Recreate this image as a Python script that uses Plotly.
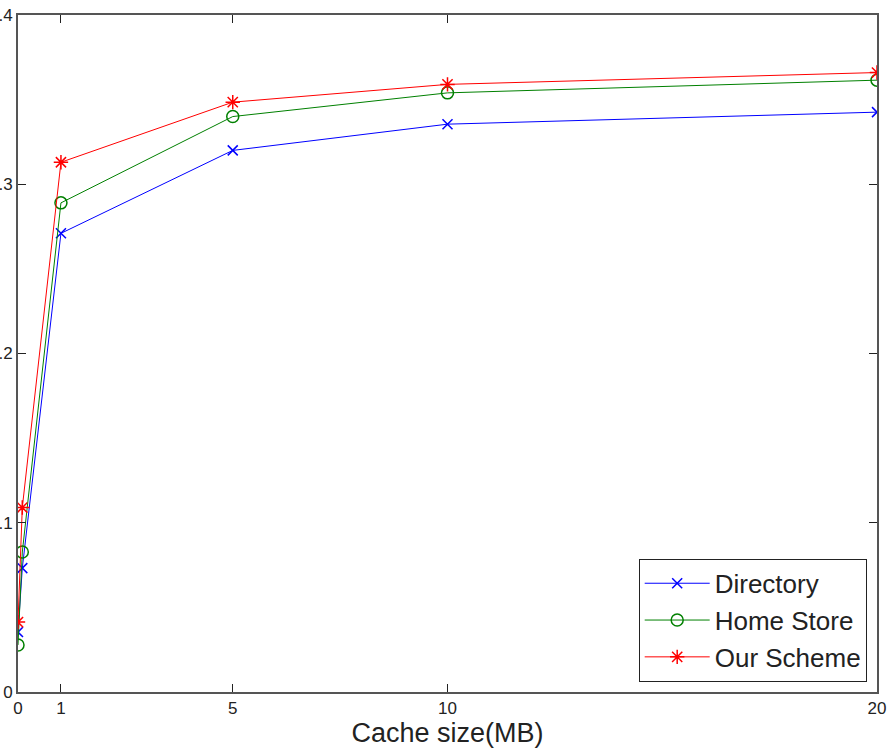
import plotly.graph_objects as go

cache_mb = [0, 0.1, 1, 5, 10, 20]
directory = [0.0354, 0.0732, 0.271, 0.320, 0.3355, 0.3426]
home_store = [0.0278, 0.0827, 0.289, 0.340, 0.354, 0.3615]
our_scheme = [0.0413, 0.109, 0.313, 0.3485, 0.359, 0.366]
x_ticks = [0, 1, 5, 10, 20]
y_ticks = [0, 0.1, 0.2, 0.3, 0.4]

FONT = "Liberation Sans, Arial, sans-serif"

fig = go.Figure()
series = [
    ("Directory", directory, "#0000ff", "x-thin-open", 10),
    ("Home Store", home_store, "#008000", "circle-open", 12),
    ("Our Scheme", our_scheme, "#ff0000", "asterisk-open", 12),
]
for name, vals, col, sym, sz in series:
    fig.add_trace(go.Scatter(
        x=cache_mb, y=vals, name=name, mode="lines+markers",
        line=dict(color=col, width=1),
        marker=dict(symbol=sym, size=sz, color=col, line=dict(color=col, width=1.5)),
    ))

axis_common = dict(
    showgrid=False, zeroline=False, showline=True, linecolor="#555", linewidth=2,
    mirror="ticks", ticks="inside", ticklen=8, tickcolor="#222", tickwidth=1,
    tickfont=dict(family=FONT, size=17, color="#222"),
    automargin=False,
)
fig.update_xaxes(range=[0, 20], tickvals=x_ticks,
                 title=dict(text="Cache size(MB)", standoff=6,
                            font=dict(family=FONT, size=27, color="#222")),
                 **axis_common)
fig.update_yaxes(range=[0, 0.4], tickvals=y_ticks, **axis_common)

fig.update_layout(
    width=889, height=750,
    margin=dict(l=18, r=12, t=15, b=58),
    plot_bgcolor="white", paper_bgcolor="white",
    font=dict(family=FONT, color="#222"),
    legend=dict(x=0.988, y=0.015, xanchor="right", yanchor="bottom",
                bordercolor="#222", borderwidth=1, bgcolor="white",
                font=dict(size=26, family=FONT, color="#222"),
                itemwidth=65, tracegroupgap=0),
    showlegend=True,
)

fig.write_html("out.html", config={"displayModeBar": False},
               post_script="document.body.style.margin='0';document.body.style.padding='0';")
